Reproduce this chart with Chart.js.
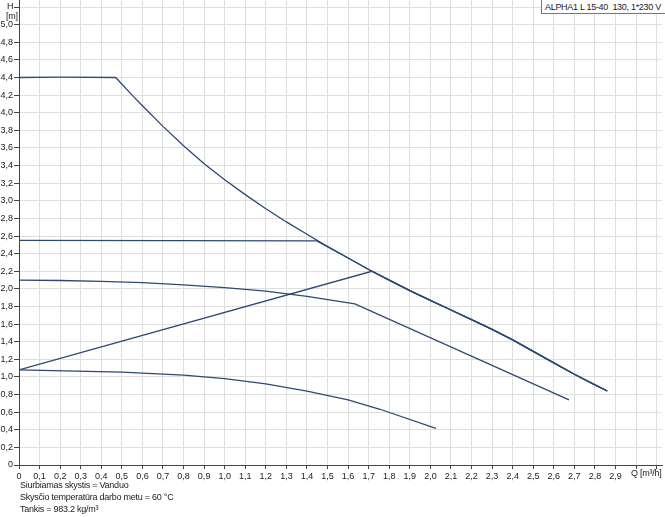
<!DOCTYPE html>
<html>
<head>
<meta charset="utf-8">
<script src="https://cdn.jsdelivr.net/npm/chart.js@4/dist/chart.umd.min.js"></script>
<style>
  body { margin: 0; background: #fff; font-family: "Liberation Sans", Arial, sans-serif; }
  #wrap { position: relative; width: 665px; height: 517px; overflow: hidden; }
  .lbl { position: absolute; font-size: 9px; color: #222; white-space: pre; line-height: 12px; letter-spacing: -0.25px; }
  #model { position: absolute; left: 541px; top: -1px; width: 130px; height: 13px; border: 1px solid #777;
           background: #fff; font-size: 9px; line-height: 14px; padding-left: 3px; color: #222; white-space: pre;
           letter-spacing: -0.3px; }
</style>
</head>
<body>
<div id="wrap">
  <canvas id="chart" width="665" height="517"></canvas>
  <div class="lbl" style="left:7px;top:0px">H</div>
  <div class="lbl" style="left:6px;top:10px">[m]</div>
  <div class="lbl" style="left:631px;top:467px">Q [m³/h]</div>
  <div id="model">ALPHA1 L 15-40  130, 1*230 V</div>
  <div class="lbl" style="left:20px;top:479px">Siurbiamas skystis = Vanduo</div>
  <div class="lbl" style="left:20px;top:491px">Skysčio temperatūra darbo metu = 60 °C</div>
  <div class="lbl" style="left:20px;top:503px">Tankis = 983.2 kg/m³</div>
</div>
<script>
// max curve (flat part + falling part)
const maxQ = [0, 0.2, 0.47, 0.55, 0.6, 0.7, 0.8, 0.9, 1.0, 1.1, 1.2, 1.3, 1.4, 1.5, 1.6, 1.7, 1.8, 1.9, 2.0, 2.1, 2.2, 2.3, 2.4, 2.5, 2.6, 2.7, 2.8, 2.86];
const maxH = [4.40, 4.405, 4.40, 4.20, 4.08, 3.845, 3.625, 3.42, 3.24, 3.07, 2.91, 2.76, 2.62, 2.48, 2.35, 2.22, 2.10, 1.98, 1.87, 1.76, 1.65, 1.54, 1.42, 1.29, 1.16, 1.03, 0.91, 0.84];

// constant pressure 2.55 m
const cpQ = [0, 1.447];
const cpH = [2.55, 2.545];

// curve starting at 2.1 m
const midQ = [0, 0.2, 0.4, 0.6, 0.8, 1.0, 1.2, 1.4, 1.633, 2.674];
const midH = [2.10, 2.095, 2.085, 2.07, 2.045, 2.015, 1.975, 1.915, 1.83, 0.74];

// proportional pressure line
const ppQ = [0, 1.715];
const ppH = [1.08, 2.20];

// lowest curve
const lowQ = [0, 0.5, 0.8, 1.0, 1.2, 1.4, 1.6, 1.755, 2.027];
const lowH = [1.08, 1.055, 1.02, 0.98, 0.92, 0.84, 0.74, 0.633, 0.417];

const xTickLabels = ["0", "0,1", "0,2", "0,3", "0,4", "0,5", "0,6", "0,7", "0,8", "0,9", "1,0", "1,1", "1,2", "1,3", "1,4", "1,5", "1,6", "1,7", "1,8", "1,9", "2,0", "2,1", "2,2", "2,3", "2,4", "2,5", "2,6", "2,7", "2,8", "2,9", "", ""];
const yTickLabels = ["0", "0,2", "0,4", "0,6", "0,8", "1,0", "1,2", "1,4", "1,6", "1,8", "2,0", "2,2", "2,4", "2,6", "2,8", "3,0", "3,2", "3,4", "3,6", "3,8", "4,0", "4,2", "4,4", "4,6", "4,8", "5,0", ""];

const LINE = "#2b4a74";
const GRID = "#dedede";
const AXIS = "#444";
const TICK_FONT = { family: "Liberation Sans", size: 9 };

function pts(qs, hs) {
  return qs.map((q, i) => ({ x: q, y: hs[i] }));
}

// tail of the max curve beyond a given flow
function maxTail(fromQ) {
  return pts(maxQ, maxH).filter((p) => p.x > fromQ);
}

function curve(data) {
  return {
    data,
    borderColor: LINE,
    borderWidth: 1.3,
    pointRadius: 0,
    showLine: true,
    fill: false,
    tension: 0,
  };
}

function zeroPad(scale) {
  scale.paddingTop = 0;
  scale.paddingBottom = 0;
  scale.paddingLeft = 0;
  scale.paddingRight = 0;
}

new Chart(document.getElementById("chart"), {
  type: "scatter",
  data: {
    datasets: [
      curve(pts(maxQ, maxH)),
      curve(pts(cpQ, cpH).concat(maxTail(cpQ[1]))),
      curve(pts(midQ, midH)),
      curve(pts(ppQ, ppH).concat(maxTail(ppQ[1]))),
      curve(pts(lowQ, lowH)),
    ],
  },
  options: {
    responsive: false,
    animation: false,
    layout: { padding: { top: 0, right: 3, bottom: 0, left: 0 } },
    plugins: { legend: { display: false }, tooltip: { enabled: false } },
    scales: {
      x: {
        type: "linear",
        min: 0,
        max: 3.126,
        afterFit: (s) => { s.height = 52; zeroPad(s); },
        grid: { color: GRID, tickColor: AXIS, tickLength: 4 },
        border: { color: AXIS },
        ticks: {
          stepSize: 0.1,
          includeBounds: false,
          autoSkip: false,
          maxRotation: 0,
          padding: 2,
          color: "#222",
          font: TICK_FONT,
          callback: (v, i) => xTickLabels[i] ?? "",
        },
      },
      y: {
        type: "linear",
        min: 0,
        max: 5.28,
        afterFit: (s) => { s.width = 19; zeroPad(s); },
        grid: { color: GRID, tickColor: AXIS, tickLength: 5 },
        border: { color: AXIS },
        ticks: {
          stepSize: 0.2,
          includeBounds: false,
          autoSkip: false,
          padding: 1,
          color: "#222",
          font: TICK_FONT,
          callback: (v, i) => yTickLabels[i] ?? "",
        },
      },
    },
  },
});
</script>
</body>
</html>
